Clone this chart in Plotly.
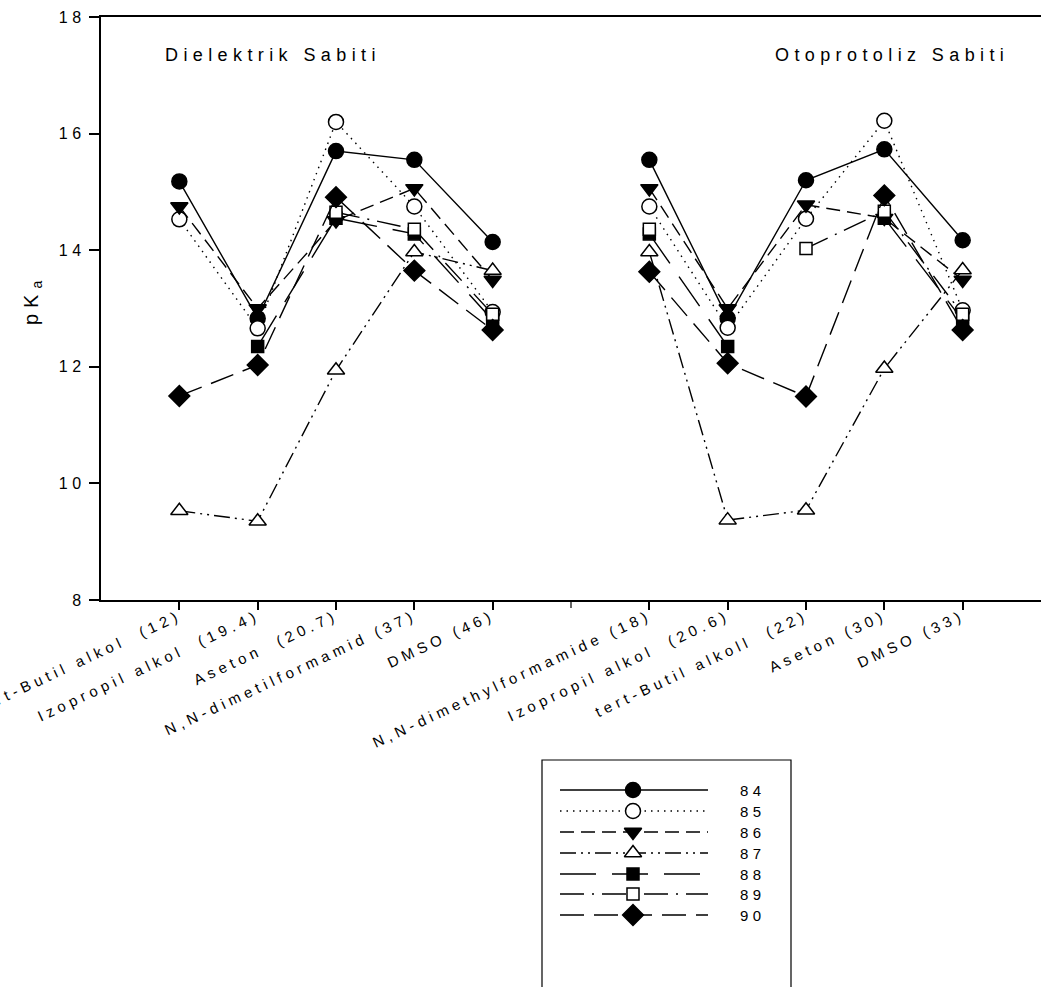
import plotly.graph_objects as go

W, H = 1041, 987

# Solvent categories (dielectric-constant order on the left, autoprotolysis order on the right)
left_solvents = ["tert-Butil alkol  (12)", "Izopropil alkol  (19.4)", "Aseton  (20.7)",
                 "N,N-dimetilformamid (37)", "DMSO (46)"]
right_solvents = ["N,N-dimethylformamide (18)", "Izopropil alkol  (20.6)", "tert-Butil alkoll  (22)",
                  "Aseton (30)", "DMSO (33)"]
left_pos = [1, 2, 3, 4, 5]
gap_pos = [6]
right_pos = [7, 8, 9, 10, 11]

y_ticks = [8, 10, 12, 14, 16, 18]

compounds = ["84", "85", "86", "87", "88", "89", "90"]

# pKa values per compound
pk84_left = [15.18, 12.83, 15.70, 15.55, 14.14]
pk84_right = [15.55, 12.83, 15.20, 15.73, 14.17]
pk85_left = [14.53, 12.66, 16.20, 14.75, 12.94]
pk85_right = [14.75, 12.67, 14.54, 16.22, 12.97]
pk86_left = [14.75, 13.00, 14.51, 15.06, 13.49]
pk86_right = [15.06, 13.00, 14.78, 14.55, 13.49]
pk87_left = [9.53, 9.35, 11.94, 13.97, 13.65]
pk87_right = [13.97, 9.37, 9.54, 11.97, 13.66]
pk88_left = [None, 12.35, 14.55, 14.28, 12.80]
pk88_right = [14.28, 12.35, None, 14.55, 12.80]
pk89_left = [None, None, 14.65, 14.36, 12.90]
pk89_right = [14.36, None, 14.03, 14.67, 12.90]
pk90_left = [11.50, 12.03, 14.91, 13.65, 12.63]
pk90_right = [13.63, 12.06, 11.49, 14.94, 12.63]

series_left = [pk84_left, pk85_left, pk86_left, pk87_left, pk88_left, pk89_left, pk90_left]
series_right = [pk84_right, pk85_right, pk86_right, pk87_right, pk88_right, pk89_right, pk90_right]

# Marker / line styling per compound
symbols = ["circle", "circle", "triangle-down", "triangle-up", "square", "square", "diamond"]
fills = ["black", "white", "black", "white", "black", "white", "black"]
msizes = [15, 15, 15, 15, 12, 12, 16]
dashes = ["solid", "1.5px,5px", "14px,7px", "16px,5px,2px,5px,2px,5px",
          "36px,16px", "24px,8px,2px,8px", "24px,10px"]

FONT = "Arial, Liberation Sans, sans-serif"

fig = go.Figure()

x_all = left_pos + gap_pos + right_pos
for name, yl, yr, sym, fc, ms, ds in zip(compounds, series_left, series_right,
                                         symbols, fills, msizes, dashes):
    fig.add_trace(go.Scatter(
        x=x_all, y=yl + [None] + yr, name=name, mode="lines+markers",
        connectgaps=False,
        line=dict(color="black", width=1.4, dash=ds),
        marker=dict(symbol=sym, size=ms, color=fc, line=dict(color="black", width=1.5)),
        showlegend=False, xaxis="x", yaxis="y",
    ))

# Key box drawn on its own small axis pair (pixel-like units)
key_x = [560, 708]
key_mid = 633
key_rows = [790, 811, 832, 853, 874, 894, 915]
for name, row, sym, fc, ms, ds in zip(compounds, key_rows, symbols, fills, msizes, dashes):
    fig.add_trace(go.Scatter(
        x=key_x, y=[row] * 2, mode="lines",
        line=dict(color="black", width=1.4, dash=ds),
        showlegend=False, hoverinfo="skip", xaxis="x2", yaxis="y2",
    ))
    fig.add_trace(go.Scatter(
        x=[key_mid], y=[row], mode="markers",
        marker=dict(symbol=sym, size=ms, color=fc, line=dict(color="black", width=1.5)),
        showlegend=False, hoverinfo="skip", xaxis="x2", yaxis="y2",
    ))
    fig.add_annotation(x=738, y=row, xref="x2", yref="y2", text=name, showarrow=False,
                       xanchor="left", yanchor="middle", align="left",
                       font=dict(family=FONT, size=15, color="black"))

fig.add_shape(type="rect", xref="paper", yref="paper",
              x0=542 / W, x1=791 / W, y0=1 - 1000 / H, y1=1 - 760 / H,
              line=dict(color="black", width=1.2), fillcolor="rgba(0,0,0,0)", layer="below")

# Unlabelled tick in the gap between the two panels
fig.add_shape(type="line", xref="x", yref="paper", x0=gap_pos[0], x1=gap_pos[0],
              y0=1 - 600 / H, y1=1 - 608 / H, line=dict(color="black", width=1.2))

# Panel titles and y label
fig.add_annotation(x=163 / W, y=1 - 55 / H, xref="paper", yref="paper", text="Dielektrik Sabiti",
                   showarrow=False, xanchor="left", yanchor="middle", align="left",
                   font=dict(family=FONT, size=18, color="black"))
fig.add_annotation(x=773 / W, y=1 - 55 / H, xref="paper", yref="paper", text="Otoprotoliz Sabiti",
                   showarrow=False, xanchor="left", yanchor="middle", align="left",
                   font=dict(family=FONT, size=18, color="black"))
fig.add_annotation(x=33 / W, y=1 - 300 / H, xref="paper", yref="paper", text="pK<sub>a</sub>",
                   showarrow=False, textangle=-90, xanchor="center", yanchor="middle",
                   font=dict(family=FONT, size=20, color="black"))

fig.update_layout(
    width=W, height=H,
    margin=dict(l=0, r=0, t=0, b=0),
    paper_bgcolor="white", plot_bgcolor="white",
    font=dict(family=FONT, size=15, color="black"),
    xaxis=dict(
        domain=[101 / W, 1.0], range=[0, 12], automargin=False,
        tickmode="array", tickvals=left_pos + right_pos,
        ticktext=left_solvents + right_solvents,
        tickangle=-25, ticks="outside", ticklen=8, tickwidth=1.5, tickcolor="black",
        ticklabelstandoff=-8,
        showline=True, linewidth=1.5, linecolor="black", mirror=True,
        showgrid=False, zeroline=False, tickfont=dict(family=FONT, size=15, color="black"),
    ),
    yaxis=dict(
        domain=[1 - 600 / H, 1 - 17 / H], range=[8, 18], automargin=False,
        tickmode="array", tickvals=y_ticks,
        ticks="outside", ticklen=10, tickwidth=1.5, tickcolor="black",
        showline=True, linewidth=1.5, linecolor="black", mirror=False,
        showgrid=False, zeroline=False, tickfont=dict(family=FONT, size=16, color="black"),
    ),
    xaxis2=dict(domain=[542 / W, 791 / W], range=[542, 791], visible=False, anchor="y2",
                automargin=False),
    yaxis2=dict(domain=[0, 1 - 760 / H], range=[987, 760], visible=False, anchor="x2",
                automargin=False),
)

# Wide, evenly tracked lettering for all labels
letter_js = ("var gd = document.getElementById('{plot_id}');"
             "gd.querySelectorAll('svg text').forEach(function(t){"
             "t.style.letterSpacing='0.3em';});")

fig.write_html("out.html", post_script=letter_js)
